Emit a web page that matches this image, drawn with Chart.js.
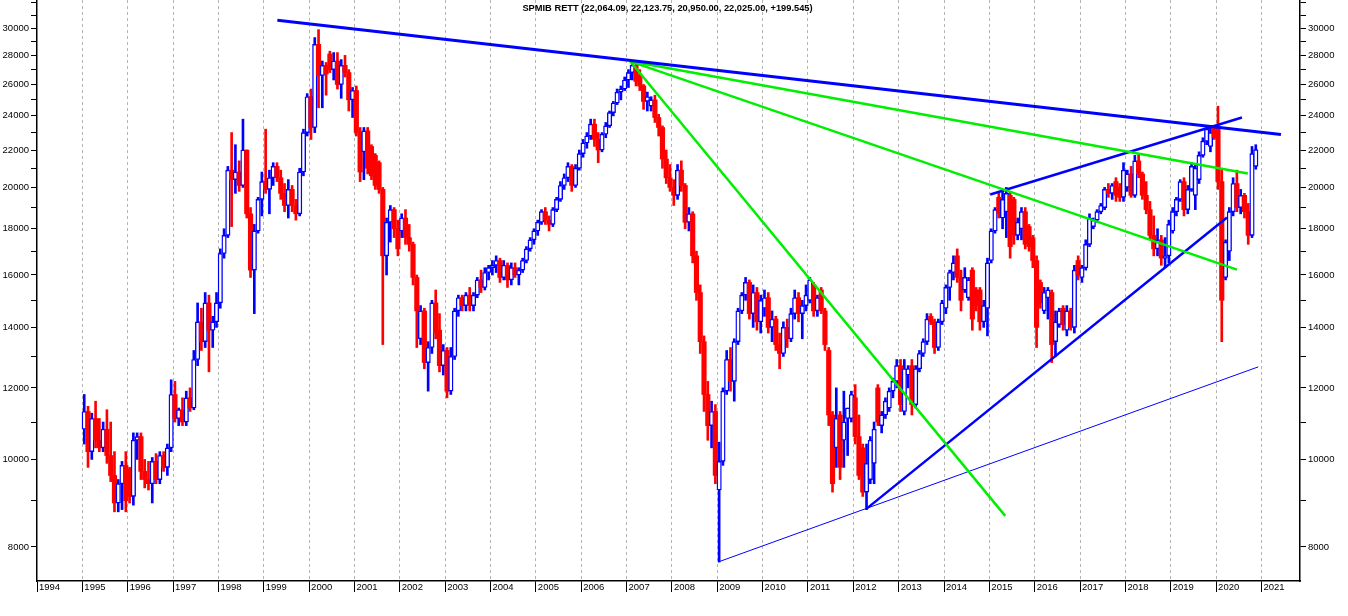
<!DOCTYPE html>
<html><head><meta charset="utf-8">
<script src="https://cdn.jsdelivr.net/npm/chart.js@4.4.1/dist/chart.umd.min.js"></script>
<style>html,body{margin:0;padding:0;background:#fff}#wrap{width:1348px;height:616px;position:relative}</style>
</head><body><div id="wrap"><canvas id="c"></canvas></div>
<script>
// ---- monthly candles, first month = Jan 1995 ----
const startYear = 1995;
const opens = [
10800,11300,10200,11100,10500,10300,10800,10100,9600,8950,9400,9850,
9750,9100,10500,10600,9700,9500,9400,9950,9500,10100,9800,10300,
11800,11100,11350,11000,11700,11400,12900,14200,13500,14900,13900,14200,
14900,16900,17700,20900,20400,20800,20100,22000,18700,16200,17900,19400,
20300,19900,20500,21100,20500,19700,19100,19900,19100,18700,20800,23000,
25200,23300,28800,26600,27300,28100,27000,27600,26000,27300,26800,25000,
25600,23000,21900,23100,22200,21700,21300,19900,16800,18300,18900,18000,
17900,18500,17600,17300,15900,13600,14600,12800,13300,14900,13900,12700,
13200,11900,13000,14600,15100,14800,15200,14800,15200,15800,15500,16100,
16300,16400,16600,15900,16400,15800,16300,16000,16200,16600,17100,17500,
17900,18300,18800,18400,18200,18900,19400,20100,20500,21100,20100,21000,
21800,22400,22800,23500,22600,22000,22900,23400,24200,24800,25500,25700,
26300,26800,27300,26600,25900,24900,24600,25000,23900,23300,21500,20500,
20000,19600,20900,20100,18300,18700,16800,15300,13500,11800,10900,11300,
9250,9950,11900,12900,12200,13500,14600,15200,15700,14500,15300,14200,
14700,15100,14000,14300,13400,13100,14000,13600,14500,15100,14500,14800,
15000,15600,14600,15400,14600,13200,11200,10300,11200,10500,11100,11100,
11700,10600,10300,9200,9500,9900,12000,10900,11200,11400,11900,12200,
12700,11300,12400,12700,11500,12600,13100,13500,14400,14200,13300,14200,
14700,15500,16100,16800,15900,15400,15100,16200,15400,15400,14200,14700,
16600,17900,19500,18500,18800,19600,19400,17700,18000,18800,18100,17600,
16600,15700,14600,15100,15300,13500,14100,14700,13900,14600,14000,16600,
15900,16300,17300,18100,18400,18800,19000,19900,19700,20300,20000,19500,
20000,20700,19600,21400,20700,19600,18900,17700,17100,17500,16700,16800,
17900,18800,19400,20300,18900,19900,19600,20400,21700,22500,22200,23300,
23300,20300,15900,17000,18800,20200,19000,19600,18800,17700,21100
];
const highs = [
11800,11450,11250,11600,11100,11000,11350,11000,10200,9500,9950,10200,
9800,10700,10700,10700,10000,9950,10050,10150,10200,10200,10400,12250,
12200,11400,11700,11900,12000,13200,14900,14700,15300,15200,14400,15300,
17100,18000,21100,23000,22300,21400,23800,22000,19000,18200,19500,20800,
23200,20900,21300,21300,20900,20200,20400,20100,19400,21000,23200,25400,
25700,29300,29900,27600,27500,28300,28200,28200,27700,28000,27000,25800,
25900,23300,23300,23300,22300,21800,21400,20000,18500,19100,19000,18400,
18700,18900,18200,17400,16000,14800,14700,13500,15000,15400,14500,13400,
13300,13300,14700,15200,15200,15300,15500,15300,15900,16200,16300,16400,
16600,16800,16700,16600,16500,16500,16500,16300,16700,17200,17600,18000,
18400,18900,19000,18600,19000,19500,20300,20700,21300,21200,21200,22000,
22600,23000,23800,23800,23000,23000,23600,24300,24900,25700,25900,26500,
27000,27600,27400,27000,26000,25500,25200,25300,24100,23400,22000,21200,
20400,21200,21400,20200,19000,18800,17000,15600,13700,12200,11600,11500,
10450,12000,13200,13300,13600,14700,15300,15900,15800,15600,15500,15200,
15400,15300,14600,14400,13800,14200,14300,14700,15400,15300,15000,15600,
15900,15700,15200,15500,14700,13300,11300,12000,11300,11900,11400,11900,
12100,11200,10400,10400,10600,11000,12100,11300,11700,12000,12300,12900,
12900,12900,12700,12900,12700,13200,13600,14500,14500,14300,14300,15000,
15600,16200,16800,17100,16200,16300,15900,16300,15500,15500,15000,16700,
18000,19000,19700,19900,20000,19800,19500,18500,19000,19000,18200,17700,
16800,15800,15500,15500,15400,14600,14700,14800,14800,14700,16400,16800,
16400,17500,18700,18500,18900,19200,20000,20200,20200,20500,20200,21300,
20900,21100,21700,21800,20800,20300,19300,18600,18000,17700,17600,18400,
19000,19500,20400,20500,20100,21300,21200,21900,22700,23300,23300,23400,
24600,21000,17500,19000,20500,20900,19900,19700,19200,22200,22300
];
const lows = [
10400,9800,10000,10300,10200,10200,9900,9450,8750,8750,8800,8750,
8950,8900,10000,9500,9300,9250,8950,9400,9400,9700,9600,10200,
11000,10900,10900,10900,11300,11350,12700,13200,13300,12500,13300,14000,
14700,16700,17600,18100,19700,19800,20000,18500,15900,14500,17800,18600,
19700,18700,20100,20300,19400,18800,18500,18800,18400,18600,20600,22800,
22600,23000,24500,24500,25300,26800,26300,25700,25100,26500,24300,23900,
22800,20300,20400,20700,20400,19900,19700,13400,16000,17400,17600,16800,
17600,17300,17000,15600,13300,13400,12600,11900,13100,13600,12500,12400,
11700,11800,12900,14400,14600,14600,14600,14600,15100,15300,15400,15800,
16000,16100,15700,15800,15500,15600,15900,15600,16100,16500,17000,17300,
17700,18200,18200,17900,18100,18800,19300,19900,20300,19800,20000,20900,
21600,22100,22600,22200,21300,21900,22700,23300,24000,24700,25000,25600,
25800,26300,25900,25600,24400,24300,24300,23600,22800,21000,20200,19800,
19100,19400,19800,18000,17900,16500,15000,13100,11300,10500,10300,9400,
7700,9850,11800,11900,11600,13400,14500,15000,14300,14000,13900,13800,
14400,13800,13500,13200,12600,13000,13300,13500,14300,14200,13600,14600,
14900,14400,14400,14500,13200,10900,9200,9800,9500,9800,10100,11000,
10400,9500,9100,8800,9400,9400,10900,10700,11100,11300,11700,12000,
11300,11200,12000,11200,11400,12500,13000,13400,14100,13100,13200,14100,
14500,15000,15800,15700,14600,15300,15000,13900,14600,13900,14000,13700,
16500,17800,18500,18000,17600,16700,17300,17500,17500,17100,17000,16300,
13300,14700,14500,14300,12800,13000,14000,13900,13700,13900,13800,15800,
15700,16200,17200,18000,18300,18700,18900,19500,19400,19300,19300,19300,
19800,19500,19500,20500,19400,18700,17500,16800,16800,16400,16300,16500,
17800,18600,19300,18600,18700,19800,18900,20200,21600,22300,21900,22600,
19900,13500,15800,16600,18600,18800,18700,18500,17300,17600,20950
];
const closes = [
11300,10200,11100,10500,10300,10800,10100,9600,8950,9400,9850,9000,
9100,10500,10600,9700,9500,9400,9950,9500,10100,9800,10300,11800,
11100,11350,11000,11700,11400,12900,14200,13500,14900,13900,14200,14900,
16900,17700,20900,20400,20800,20100,22000,18700,16200,17900,19400,20300,
19900,20500,21100,20500,19700,19100,19900,19100,18700,20800,23000,25200,
23300,28800,26600,27300,26700,27000,27600,26000,27300,26800,25000,25600,
23000,20800,23100,21000,20600,20100,19900,16800,18300,18900,18000,17100,
18500,17600,17300,15900,14600,14600,12800,13300,14900,13800,12700,13200,
11900,13000,14600,15100,14800,15200,14800,15200,15800,15500,16100,16300,
16400,16600,15900,16400,15800,16300,16000,16200,16600,17100,17500,17900,
18300,18800,18400,18200,18900,19400,20100,20500,21100,20100,21000,21800,
22400,22800,23500,22600,22000,22900,23400,24200,24800,25500,25700,26300,
26800,27300,26200,25900,24900,25200,25000,23900,23300,21500,20500,20000,
19600,20900,20100,18300,18700,16800,15300,13500,11800,10900,11300,9600,
9950,11900,12900,12200,13500,14600,15200,15700,14500,15300,14200,15000,
15100,14000,14300,13400,13100,14000,13600,14500,15100,14500,14800,15200,
15800,14600,15100,14600,13400,11200,9400,11100,9800,11000,11400,11800,
10600,9600,9200,9900,10500,10800,11000,11200,11600,11900,12200,12700,
11500,12600,12600,11500,12600,13100,13500,14300,14200,13300,14200,14900,
15500,16100,16500,15900,15000,15900,15800,14300,14800,14200,14800,16500,
17900,18900,18700,19400,19700,17200,17700,18300,18800,17300,17200,16600,
14000,14900,15300,15400,13400,14200,14600,14100,14600,14000,16200,16000,
16300,17300,18500,18400,18800,19100,19900,19700,20100,19600,19500,20900,
20700,19600,21400,20700,19600,18900,17700,17100,17500,16700,16800,18200,
18800,19400,20300,18900,19900,21100,21000,21700,22500,23200,23000,22700,
20300,15000,17400,18800,20200,19000,19600,18800,17700,21800,22025
];

// ---- trend lines (date in years, price) ----
const topResistance = [{x:1999.30,y:30620},{x:2021.43,y:22890}];
const greenFanSteep = [{x:2007.08,y:27580},{x:2015.35,y:8660}];
const greenFanMid   = [{x:2007.08,y:27580},{x:2020.46,y:16220}];
const greenFanUpper = [{x:2007.08,y:27580},{x:2020.70,y:20720}];
const wedgeSupport  = [{x:2012.28,y:8810},{x:2020.24,y:18520}];
const wedgeTop      = [{x:2015.02,y:19640},{x:2020.57,y:23900}];
const longSupport   = [{x:2009.02,y:7700},{x:2020.93,y:12660}];

// ---- axis ticks ----
const yearTicks = [1994,1995,1996,1997,1998,1999,2000,2001,2002,2003,2004,2005,2006,2007,
  2008,2009,2010,2011,2012,2013,2014,2015,2016,2017,2018,2019,2020,2021];
const priceTicks = [8000,9000,10000,11000,12000,13000,14000,15000,16000,17000,18000,19000,20000,
  21000,22000,23000,24000,25000,26000,27000,28000,29000,30000,31000,32000];
const priceLabels = [8000,10000,12000,14000,16000,18000,20000,22000,24000,26000,28000,30000];
const chartTitle = 'SPMIB RETT (22,064.09, 22,123.75, 20,950.00, 22,025.00, +199.545)';

const BLUE = '#0000ff', RED = '#ff0000', GREEN = '#00ee00';
const FONT = '"Liberation Sans", Arial, sans-serif';
Chart.defaults.font.family = FONT;

const monthX = opens.map((_, i) => startYear + (i + 0.5) / 12);
const isUp = i => closes[i] >= opens[i];
const wickData = opens.map((o, i) => ({x: monthX[i], y: [lows[i], highs[i]]}));
const bodyData = opens.map((o, i) => ({x: monthX[i], y: [o, closes[i]]}));

function line(data, color, width) {
  return {type: 'line', data, borderColor: color, borderWidth: width, pointRadius: 0,
    fill: false, tension: 0, order: 0};
}

const titlePlugin = {
  id: 'titleText',
  afterDraw(chart) {
    const ctx = chart.ctx;
    ctx.save();
    ctx.font = 'bold 9.3px ' + FONT;
    ctx.fillStyle = '#000';
    ctx.textAlign = 'center';
    ctx.textBaseline = 'middle';
    ctx.fillText(chartTitle, 667.5, 8.5);
    ctx.restore();
  }
};

function yAxis(pos, w) {
  return {
    type: 'logarithmic', position: pos, min: 7336, max: 32244,
    afterBuildTicks: s => { s.ticks = priceTicks.map(v => ({value: v})); },
    afterFit: s => { s.width = w; s.paddingTop = 0; s.paddingBottom = 0; },
    ticks: {autoSkip: false, padding: 2, color: '#000', font: {size: 9.5},
      callback: v => priceLabels.includes(v) ? String(v) : ''},
    grid: {drawOnChartArea: false, drawTicks: true, tickLength: 6, tickColor: '#000', tickWidth: 1},
    border: {display: true, color: '#000', width: 1.5}
  };
}

new Chart(document.getElementById('c'), {
  type: 'bar',
  data: {
    datasets: [
      line(topResistance, BLUE, 3),
      line(greenFanSteep, GREEN, 2.5),
      line(greenFanMid, GREEN, 2.5),
      line(greenFanUpper, GREEN, 2.5),
      line(wedgeSupport, BLUE, 2.5),
      line(wedgeTop, BLUE, 2.5),
      line(longSupport, BLUE, 1),
      {type: 'bar', data: bodyData, grouped: false, order: 1, barThickness: 4.5,
        borderSkipped: false,
        backgroundColor: c => isUp(c.dataIndex) ? '#ffffff' : RED,
        borderColor: c => isUp(c.dataIndex) ? BLUE : RED,
        borderWidth: c => isUp(c.dataIndex) ? 1.4 : 0},
      {type: 'bar', data: wickData, grouped: false, order: 2, barThickness: 2,
        borderWidth: 0,
        backgroundColor: c => isUp(c.dataIndex) ? BLUE : RED}
    ]
  },
  options: {
    responsive: true, maintainAspectRatio: false, animation: false, events: [],
    layout: {padding: 0},
    plugins: {legend: {display: false}, tooltip: {enabled: false}, title: {display: false}},
    scales: {
      x: {
        type: 'linear', min: 1994, max: 2021.85, offset: false,
        afterBuildTicks: s => { s.ticks = yearTicks.map(v => ({value: v})); },
        afterFit: s => { s.height = 35; s.paddingLeft = 0; s.paddingRight = 0; },
        ticks: {autoSkip: false, maxRotation: 0, align: 'start', labelOffset: 2, padding: -10.5,
          color: '#000', font: {size: 9.5}, callback: v => String(v)},
        grid: {offset: false, drawOnChartArea: true, lineWidth: 1,
          color: c => (c.tick && c.tick.value === 1994) ? 'rgba(0,0,0,0)' : '#b4b4b4',
          tickLength: 11, tickColor: '#000', tickWidth: 1},
        border: {display: true, color: '#000', width: 1.5, dash: [3, 3]}
      },
      y: yAxis('left', 37),
      y2: yAxis('right', 48)
    }
  },
  plugins: [titlePlugin]
});
</script>
</body></html>
